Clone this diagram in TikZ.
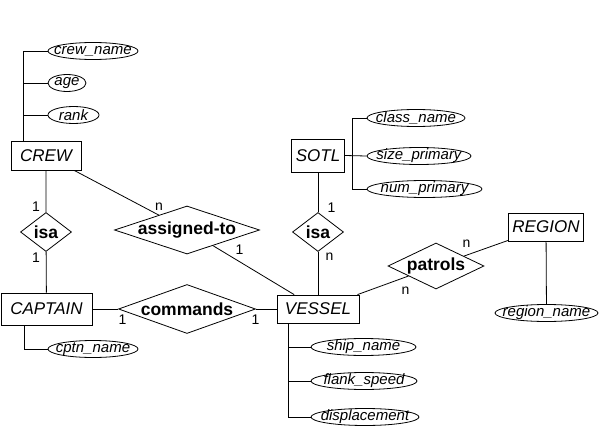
\documentclass[tikz,border=0pt]{standalone}
\usepackage{fontspec}
\setmainfont{Liberation Sans}
\usetikzlibrary{shapes.geometric}

\begin{document}
\begin{tikzpicture}[x=1pt,y=-1pt]
		\useasboundingbox (0,0) rectangle (600,428);
		
		\tikzstyle{entity} = [rectangle,draw,line width=0.8pt,inner sep=0pt,font=\fontsize{17}{20}\selectfont\itshape]
		\tikzstyle{rel} = [diamond,draw,line width=0.8pt,inner xsep=-20pt,inner ysep=-8pt,aspect=2,font=\fontsize{17.5}{20}\selectfont\bfseries]
		\tikzstyle{attr} = [ellipse,draw,line width=0.8pt,inner xsep=-40pt,inner ysep=-8pt,minimum height=17,font=\fontsize{15}{18}\selectfont\itshape]
		\tikzstyle{card} = [inner sep=0pt,font=\fontsize{14}{16}\selectfont]
		\tikzstyle{line} = [line width=0.8pt,color=black]
		
		% entities
		\node[entity,minimum width=70,minimum height=29] (CR) at (46,155.5) {CREW};
		\node[entity,minimum width=91,minimum height=32] (CA) at (46.5,309) {CAPTAIN};
		\node[entity,minimum width=82,minimum height=28] (V) at (318,309) {VESSEL};
		\node[entity,minimum width=53,minimum height=33] (S) at (318,155.5) {SOTL};
		\node[entity,minimum width=75,minimum height=28] (R) at (546,227) {REGION};
		
		% relationships
		\node[rel,minimum width=51,minimum height=39] (ISA1) at (46,232) {isa};
		\node[rel,minimum width=51,minimum height=39] (ISA2) at (318,232) {isa};
		\node[rel,minimum width=145,minimum height=48] (AT) at (187,230) {assigned-to};
		\node[rel,minimum width=137,minimum height=49] (CM) at (187,309) {commands};
		\node[rel,minimum width=96,minimum height=46] (PT) at (436,266) {patrols};
		
		% attributes
		\node[attr,minimum width=90] (CN) at (93,51) {crew\_name};
		\node[attr,minimum width=38] (AG) at (67,83) {age};
		\node[attr,minimum width=51] (RK) at (73.5,115) {rank};
		\node[attr,minimum width=90] (CPN) at (93,349) {cptn\_name};
		\node[attr,minimum width=98] (CLN) at (416,118) {class\_name};
		\node[attr,minimum width=104] (SZP) at (419,156) {size\_primary};
		\node[attr,minimum width=115] (NMP) at (424.5,189) {num\_primary};
		\node[attr,minimum width=103] (RN) at (546.5,313) {region\_name};
		\node[attr,minimum width=105] (SN) at (363.5,347) {ship\_name};
		\node[attr,minimum width=106] (FS) at (364,381) {flank\_speed};
		\node[attr,minimum width=108] (DP) at (365,417) {displacement};
		
		\coordinate (CRbus) at ([xshift=13]CR.north west);
		\coordinate (CAbus) at ([xshift=24]CA.south west);
		\coordinate (Sbus) at ([xshift=7]S.east);
		\coordinate (Vbus) at ([xshift=12]V.south west);
		
		% attribute lines
		\draw [line] (CN.west) -| (CRbus);
		\draw [line] (AG.west) -- (AG.west -| CRbus);
		\draw [line] (RK.west) -- (RK.west -| CRbus);
		\draw [line] (CAbus) |- (CPN.west);
		\draw [line] (S.east) -- (SZP.west);
		\draw [line] (CLN.west) -| (Sbus) |- (NMP.west);
		\draw [line] (Vbus) |- (DP.west);
		\draw [line] (SN.west) -- (SN.west -| Vbus);
		\draw [line] (FS.west) -- (FS.west -| Vbus);
		\draw [line] (R) -- (RN);
		
		% relationship lines
		\draw [line] (CR) -- (ISA1) -- (CA);
		\draw [line] (S) -- (ISA2) -- (V);
		\draw [line] (CR) -- (AT) -- (V);
		\draw [line] (CA) -- (CM) -- (V);
		\draw [line] (V) -- (PT) -- (R);
		
		% cardinalities
		\node[card] (c1) at (36,207) {1};
		\node[card] (c2) at (36,258) {1};
		\node[card] (c3) at (159,206.5) {n};
		\node[card] (c4) at (239.5,250) {1};
		\node[card] (c5) at (122.5,320) {1};
		\node[card] (c6) at (255.5,320) {1};
		\node[card] (c7) at (331.5,208) {1};
		\node[card] (c8) at (329.5,256.5) {n};
		\node[card] (c9) at (466.5,243.5) {n};
		\node[card] (c10) at (405.5,291) {n};
		
	\end{tikzpicture}
\end{document}
